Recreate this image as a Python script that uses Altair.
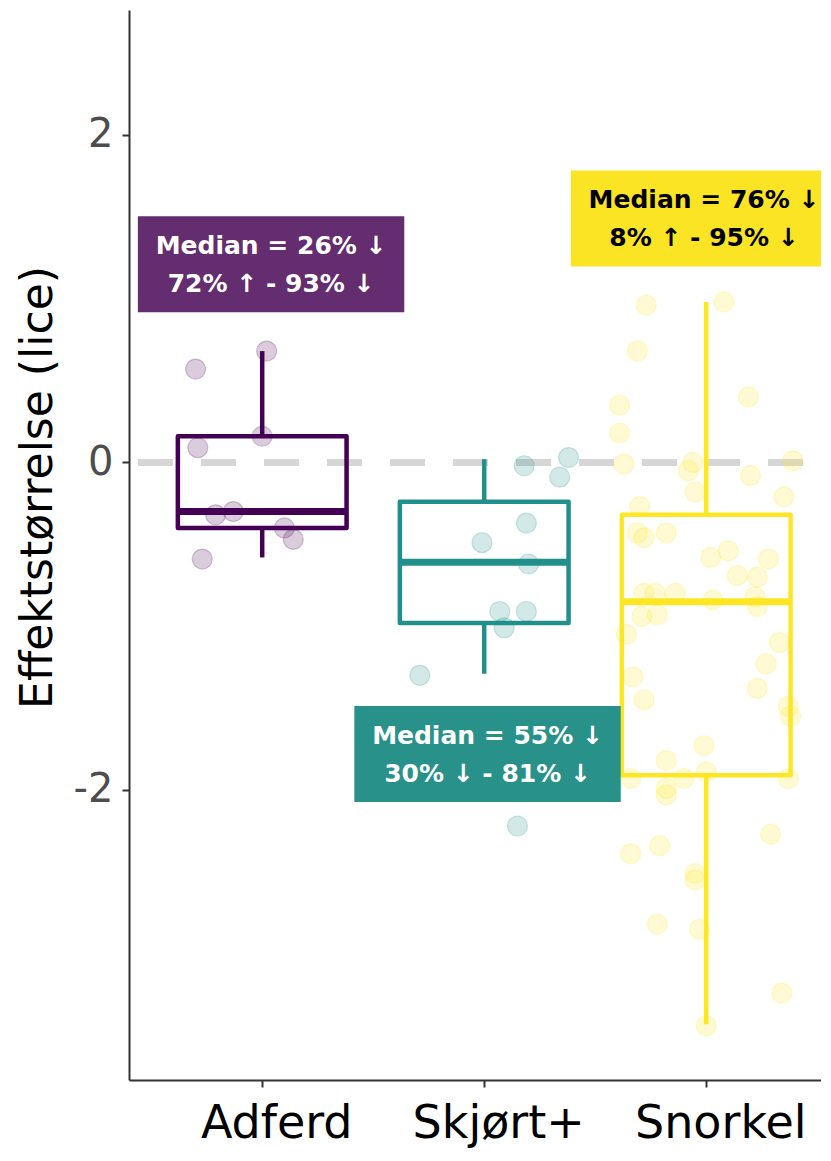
import altair as alt
import pandas as pd

# ---------------- data ----------------
categories = ["Adferd", "Skjørt+", "Snorkel"]
colors = ["#440154", "#21908C", "#FDE725"]

adferd_y = [0.57, 0.68, 0.09, 0.16, -0.32, -0.30, -0.40, -0.47, -0.59]
adferd_jit = [-0.30, 0.02, -0.29, 0.00, -0.21, -0.13, 0.10, 0.14, -0.27]

skjort_y = [-0.02, 0.03, -0.09, -0.37, -0.49, -0.62, -0.91, -0.91, -1.01, -1.30, -2.22]
skjort_jit = [0.18, 0.38, 0.34, 0.19, -0.01, 0.20, 0.07, 0.19, 0.09, -0.29, 0.15]

snorkel_y = [0.96, 0.98, 0.68, 0.40, 0.35, 0.18, -0.01, 0.01, 0.00, -0.05,
             -0.08, -0.18, -0.21, -0.27, -0.43, -0.46, -0.43, -0.58, -0.54, -0.59,
             -0.69, -0.70, -0.80, -0.80, -0.80, -0.84, -0.82, -0.88, -0.94, -0.93,
             -1.05, -1.10, -1.23, -1.31, -1.45, -1.38, -1.49, -1.55, -1.73, -1.82,
             -1.93, -1.89, -1.93, -1.93, -1.99, -2.03, -2.27, -2.34, -2.39, -2.51,
             -2.55, -2.82, -2.85, -3.24, -3.44]
snorkel_jit = [-0.27, 0.08, -0.31, 0.19, -0.39, -0.39, -0.37, 0.39, -0.06, -0.08,
               0.20, -0.05, 0.35, -0.30, -0.31, -0.28, -0.18, 0.02, 0.10, 0.28,
               0.14, 0.23, -0.28, -0.23, -0.14, 0.03, 0.22, 0.23, -0.29, -0.22,
               -0.36, 0.33, 0.27, -0.33, -0.28, 0.23, 0.37, 0.38, -0.01, -0.18,
               -0.10, 0.00, -0.34, 0.37, -0.18, -0.18, 0.29, -0.21, -0.34, -0.05,
               -0.05, -0.22, -0.03, 0.34, 0.00]

# box-plot summaries
whisker_low = [-0.58, -1.29, -3.43]
box_q1 = [-0.40, -0.98, -1.91]
box_median = [-0.30, -0.61, -0.85]
box_q3 = [0.16, -0.24, -0.32]
whisker_high = [0.68, 0.02, 0.98]

# annotations
label_line1 = ["Median = 26% ↓", "Median = 55% ↓", "Median = 76% ↓"]
label_line2 = ["72% ↑ - 93% ↓", "30% ↓ - 81% ↓", "8% ↑ - 95% ↓"]
label_x = [1.04, 2.015, 2.99]
label_y = [1.21, -1.78, 1.49]
label_fill = ["#632D6F", "#28918A", "#FBE423"]
label_text_color = ["white", "white", "black"]

# ---------------- tables ----------------
pts = []
for cat, ys, js in [(categories[0], adferd_y, adferd_jit),
                    (categories[1], skjort_y, skjort_jit),
                    (categories[2], snorkel_y, snorkel_jit)]:
    idx = categories.index(cat) + 1
    for v, j in zip(ys, js):
        pts.append({"cat": cat, "x": idx + j, "y": v})
points_df = pd.DataFrame(pts)

BOX_HALF = 0.38
box_df = pd.DataFrame({
    "cat": categories,
    "xc": [1, 2, 3],
    "xl": [i + 1 - BOX_HALF for i in range(3)],
    "xr": [i + 1 + BOX_HALF for i in range(3)],
    "low": whisker_low, "q1": box_q1, "med": box_median,
    "q3": box_q3, "high": whisker_high,
})

LAB_HW, LAB_HH = 0.60, 0.293
lab_df = pd.DataFrame({
    "cat": categories,
    "x": label_x, "y": label_y,
    "x1": [v - LAB_HW for v in label_x], "x2": [v + LAB_HW for v in label_x],
    "y1": [v - LAB_HH for v in label_y], "y2": [v + LAB_HH for v in label_y],
    "l1": label_line1, "l2": label_line2,
    "fill": label_fill, "tcol": label_text_color,
})

zero_df = pd.DataFrame({"y": [0]})

# ---------------- scales ----------------
XMIN, XMAX = 0.4, 3.517
YMIN, YMAX = -3.771, 2.763
label_expr = " : ".join(
    [f"datum.value == {i + 1} ? '{c}'" for i, c in enumerate(categories[:-1])]
) + f" : '{categories[-1]}'"

xscale = alt.Scale(domain=[XMIN, XMAX], nice=False, zero=False)
yscale = alt.Scale(domain=[YMIN, YMAX], nice=False, zero=False)
color = alt.Color("cat:N", scale=alt.Scale(domain=categories, range=colors), legend=None)

FONT = "DejaVu Sans"
x_axis = alt.Axis(values=[1, 2, 3], labelExpr=label_expr, title=None, grid=False,
                  labelFontSize=46, labelFont=FONT, labelColor="black",
                  labelPadding=14, labelOffset=14,
                  tickSize=7, tickWidth=2, tickColor="#333333",
                  domainColor="#333333", domainWidth=2)
y_axis = alt.Axis(values=[-2, 0, 2], title="Effektstørrelse (lice)", grid=False,
                  labelExpr="datum.value < 0 ? '-' + abs(datum.value) : '' + datum.value",
                  labelFontSize=40, labelFont=FONT, labelColor="#4D4D4D",
                  labelPadding=9, tickSize=7, tickWidth=2, tickColor="#333333",
                  domainColor="#333333", domainWidth=2,
                  titleFontSize=44, titleFont=FONT, titleFontWeight="normal",
                  titleColor="black", titlePadding=13, titleY=477)

base_x = alt.X("x:Q", scale=xscale, axis=x_axis)

zero = alt.Chart(zero_df).mark_rule(
    color="#D6D6D6", strokeWidth=7, strokeDash=[35, 28], strokeDashOffset=45, clip=True
).encode(y=alt.Y("y:Q", scale=yscale, axis=y_axis))

boxes = alt.Chart(box_df).mark_rect(
    fill="white", fillOpacity=0, strokeWidth=4.5, strokeJoin="round", clip=True
).encode(
    x=alt.X("xl:Q", scale=xscale, axis=x_axis), x2="xr:Q",
    y=alt.Y("q1:Q", scale=yscale, axis=y_axis), y2="q3:Q",
    stroke=color,
)
medians = alt.Chart(box_df).mark_rule(strokeWidth=7, clip=True).encode(
    x=alt.X("xl:Q", scale=xscale), x2="xr:Q",
    y=alt.Y("med:Q", scale=yscale), color=color,
)
wh_up = alt.Chart(box_df).mark_rule(strokeWidth=4.5, clip=True).encode(
    x=alt.X("xc:Q", scale=xscale), y=alt.Y("q3:Q", scale=yscale), y2="high:Q", color=color,
)
wh_dn = alt.Chart(box_df).mark_rule(strokeWidth=4.5, clip=True).encode(
    x=alt.X("xc:Q", scale=xscale), y=alt.Y("low:Q", scale=yscale), y2="q1:Q", color=color,
)

points = alt.Chart(points_df).mark_circle(
    size=400, fillOpacity=0.2, strokeOpacity=0.22, strokeWidth=1.2, clip=True
).encode(
    x=base_x, y=alt.Y("y:Q", scale=yscale, axis=y_axis),
    fill=color, stroke=color,
)

lab_rect = alt.Chart(lab_df).mark_rect(clip=True).encode(
    x=alt.X("x1:Q", scale=xscale), x2="x2:Q",
    y=alt.Y("y1:Q", scale=yscale), y2="y2:Q",
    fill=alt.Fill("fill:N", scale=None),
)
txt1 = alt.Chart(lab_df).mark_text(
    font=FONT, fontSize=25, fontWeight="bold", dy=-18, baseline="middle", clip=True
).encode(
    x=alt.X("x:Q", scale=xscale), y=alt.Y("y:Q", scale=yscale),
    text="l1:N", color=alt.Color("tcol:N", scale=None),
)
txt2 = alt.Chart(lab_df).mark_text(
    font=FONT, fontSize=25, fontWeight="bold", dy=20, baseline="middle", clip=True
).encode(
    x=alt.X("x:Q", scale=xscale), y=alt.Y("y:Q", scale=yscale),
    text="l2:N", color=alt.Color("tcol:N", scale=None),
)

chart = alt.layer(
    zero, boxes, medians, wh_up, wh_dn, points, lab_rect, txt1, txt2
).properties(
    width=692, height=1070,
    padding={"left": 8, "top": 2, "right": 0, "bottom": 4},
).configure_view(stroke=None)

chart.save("out.html", embed_options={"renderer": "svg", "actions": False})
